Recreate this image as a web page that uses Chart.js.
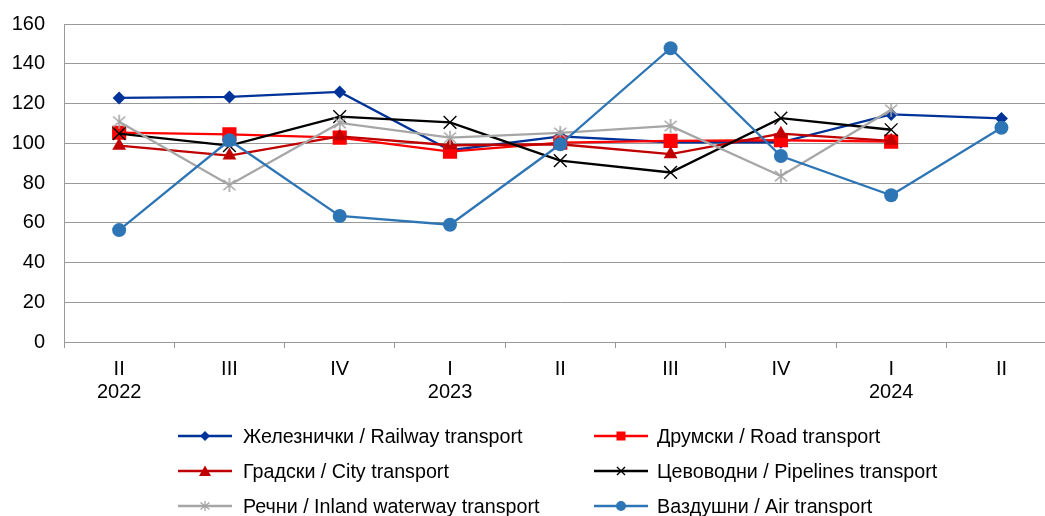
<!DOCTYPE html>
<html>
<head>
<meta charset="utf-8">
<script src="https://cdn.jsdelivr.net/npm/chart.js@4.4.1/dist/chart.umd.min.js"></script>
<style>
html,body{margin:0;padding:0;background:#fff;overflow:hidden;width:1045px;height:516px;}
#c{position:absolute;left:0;top:0;}
#legend{position:absolute;left:0;top:0;width:1045px;height:516px;pointer-events:none;font-family:"Liberation Sans",Arial,sans-serif;font-size:19.7px;color:#000;}
.item{position:absolute;height:24px;line-height:24px;white-space:nowrap;}
.item svg{position:absolute;left:0;top:5px;}
.item span{position:absolute;top:0;}
</style>
</head>
<body>
<canvas id="c" width="1067" height="516"></canvas>
<div id="legend"></div>
<script>
const quarters = ['II','III','IV','I','II','III','IV','I','II'];
const years = ['2022','','','2023','','','','2024',''];
const yTicks = [0,20,40,60,80,100,120,140,160];

const railway   = [122.8,123.3,125.8,96.5,103.5,100.5,100.5,114.5,112.5];
const road      = [105.3,104.5,102.8,95.8,100.3,101.2,101.5,100.8,null];
const city      = [98.8,93.8,103.5,99.0,99.5,94.5,104.8,101.2,null];
const pipelines = [104.8,98.8,113.4,110.5,91.3,85.3,112.6,106.8,null];
const inland    = [110.8,79.0,110.2,102.8,105.2,108.7,83.5,116.8,null];
const air       = [56.3,101.5,63.4,59.0,99.5,147.8,93.6,73.8,107.8];

const seriesNames = [
  'Железнички / Railway transport',
  'Друмски / Road transport',
  'Градски / City transport',
  'Цевоводни / Pipelines transport',
  'Речни / Inland waterway transport',
  'Вaздушни / Air transport'
];

function asterisk(size, color, lw){
  const c = document.createElement('canvas');
  c.width = size; c.height = size;
  const x = c.getContext('2d');
  const m = size/2, r = size/2 - 1;
  x.strokeStyle = color; x.lineWidth = lw;
  x.beginPath();
  x.moveTo(m, m-r); x.lineTo(m, m+r);
  const d = r*0.75;
  x.moveTo(m-d*1.15, m-d); x.lineTo(m+d*1.15, m+d);
  x.moveTo(m+d*1.15, m-d); x.lineTo(m-d*1.15, m+d);
  x.stroke();
  return c;
}
const starChart = asterisk(16, '#A6A6A6', 1.6);

const styles = [
  {data: railway,   color:'#003399', point:'rectRot',  r:6.5, bw:0},
  {data: road,      color:'#FF0000', point:'rect',     r:10,  bw:0},
  {data: city,      color:'#C00000', point:'triangle', r:8,   bw:0},
  {data: pipelines, color:'#000000', point:'crossRot', r:9,   bw:1.4},
  {data: inland,    color:'#A6A6A6', point:starChart,  r:8,   bw:1.4},
  {data: air,       color:'#2E75B6', point:'circle',   r:7,   bw:0}
];

const datasets = styles.map((s,i)=>({
  label: seriesNames[i],
  data: s.data,
  borderColor: s.color,
  backgroundColor: s.color,
  borderWidth: 2.3,
  pointStyle: s.point,
  pointRadius: s.r,
  pointHoverRadius: s.r,
  pointBorderWidth: s.bw,
  pointBorderColor: s.color,
  pointBackgroundColor: s.color,
  tension: 0,
  spanGaps: false,
  order: styles.length - 1 - i
}));

const labels = quarters.map((q,i)=> [q, years[i]]);

new Chart(document.getElementById('c'), {
  type: 'line',
  data: { labels, datasets },
  options: {
    responsive: false,
    animation: false,
    layout: { padding: { top: 24, right: 0, bottom: 0, left: 0 } },
    plugins: { legend: { display: false }, tooltip: { enabled: false } },
    scales: {
      x: {
        offset: true,
        afterFit(scale){ scale.height = 174; scale.paddingLeft = 0; scale.paddingRight = 0; },
        grid: { offset: true, drawOnChartArea: false, drawTicks: true, tickLength: 6, color: '#999', lineWidth: 1 },
        border: { display: true, color: '#999', width: 1 },
        ticks: { color: '#000', padding: 10, maxRotation: 0, autoSkip: false,
          font: { family: '"Liberation Sans", Arial, sans-serif', size: 20, lineHeight: 1.15 } }
      },
      y: {
        min: 0, max: 160,
        afterFit(scale){ scale.width = 64; scale.paddingTop = 0; scale.paddingBottom = 0; },
        afterBuildTicks(scale){ scale.ticks = yTicks.map(v=>({value:v})); },
        grid: { drawTicks: false, color: '#999', lineWidth: 1 },
        border: { display: true, color: '#999', width: 1 },
        ticks: { color: '#000', padding: 19,
          font: { family: '"Liberation Sans", Arial, sans-serif', size: 20 } }
      }
    }
  }
});

// HTML legend
const legendPos = [
  {x:178, tx:243, y:436},
  {x:594, tx:657, y:436},
  {x:178, tx:243, y:471},
  {x:594, tx:657, y:471},
  {x:178, tx:243, y:506},
  {x:594, tx:657, y:506}
];
const legendMarkers = [
  (c)=>`<polygon points="27,2 32,7 27,12 22,7" fill="${c}"/>`,
  (c)=>`<rect x="22.5" y="2.5" width="9" height="9" fill="${c}"/>`,
  (c)=>`<polygon points="27,1.5 33,12 21,12" fill="${c}"/>`,
  (c)=>`<path d="M23,3 L31,11 M31,3 L23,11" stroke="${c}" stroke-width="1.4"/>`,
  (c)=>`<path d="M27,2 L27,12 M22.5,3.5 L31.5,10.5 M31.5,3.5 L22.5,10.5" stroke="${c}" stroke-width="1.3"/>`,
  (c)=>`<circle cx="27" cy="7" r="5" fill="${c}"/>`
];
const lg = document.getElementById('legend');
styles.forEach((s,i)=>{
  const p = legendPos[i];
  const d = document.createElement('div');
  d.className = 'item';
  d.style.left = p.x + 'px';
  d.style.top = (p.y - 12) + 'px';
  d.innerHTML = `<svg width="54" height="14" viewBox="0 0 54 14"><line x1="0" y1="7" x2="54" y2="7" stroke="${s.color}" stroke-width="2.4"/>${legendMarkers[i](s.color)}</svg><span style="left:${p.tx - p.x}px">${seriesNames[i]}</span>`;
  lg.appendChild(d);
});
</script>
</body>
</html>
